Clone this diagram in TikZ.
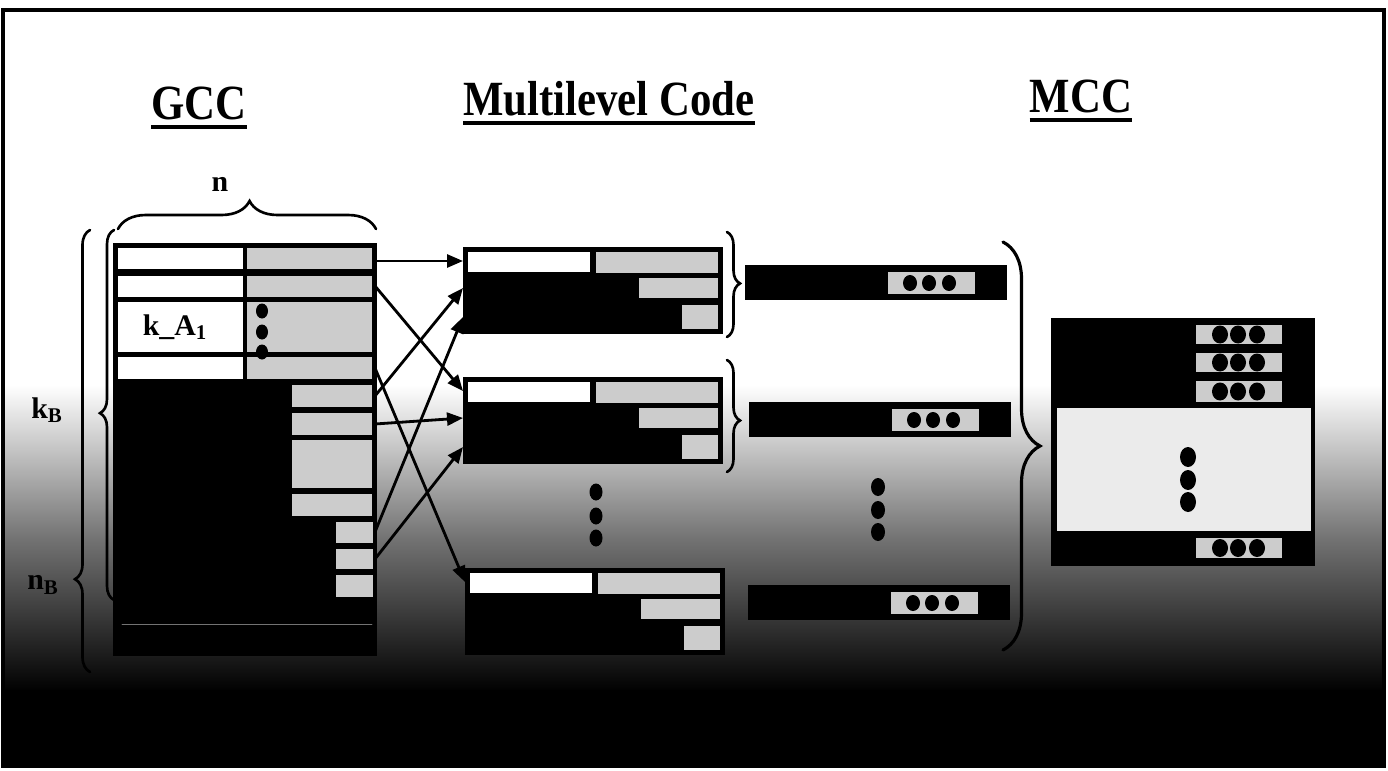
\documentclass[tikz,border=0pt]{standalone}
\usepackage{fontspec}
\setmainfont{Liberation Serif}
\usetikzlibrary{arrows.meta,decorations.pathreplacing}
\definecolor{cellgray}{gray}{0.8}
\definecolor{lightarea}{gray}{0.92}

\begin{document}
\begin{tikzpicture}[x=0.02cm,y=-0.02cm,>={Triangle[length=3.2mm,width=2.6mm]},line cap=round,
  title/.style={font=\fontsize{28}{32}\selectfont\bfseries,inner sep=0pt,anchor=base,xscale=0.87},
  lbl/.style={font=\fontsize{17}{20}\selectfont\bfseries,inner sep=0pt},
  brc/.style={decorate,line width=1.5pt},
  conn/.style={line width=1.6pt}]
\useasboundingbox (0,0) rectangle (1388,770);
% background and frame
\fill[white] (3,10) rectangle (1384,766);
\shade[top color=white,bottom color=black,middle color=black!55] (3,385) rectangle (1384,692);
\fill[black] (3,690) rectangle (1384,766);
\draw[line width=2.3pt] (3,10) rectangle (1384,766);

% titles
\node[title] (tgcc) at (199,120) {GCC};
\node[title] (tml) at (609,116) {Multilevel Code};
\node[title] (tmcc) at (1081,113) {MCC};
\foreach \t in {tgcc,tml,tmcc}
  \draw[line width=2.3pt,line cap=butt] ([yshift=-4pt]\t.base west) -- ([yshift=-4pt]\t.base east);

% GCC array
\fill (113,243) rectangle (377,656);
\foreach \a/\b in {248/269,276/297,302/352,357/379}{
  \fill[white] (118,\a) rectangle (243,\b);
  \fill[cellgray] (247,\a) rectangle (372,\b);
}
\foreach \a/\b in {385/407,413/435,440/488,494/516}
  \fill[cellgray] (292,\a) rectangle (372,\b);
\foreach \a/\b in {522/543,549/569,575/597}
  \fill[cellgray] (336,\a) rectangle (373,\b);
\draw[black!55,line width=0.4pt] (122,624) -- (372,624);
\foreach \y in {311,332,352}
  \fill (262,\y) ellipse (6 and 7.5);
\node[lbl] (ka) at (175,327) {k\_A\textsubscript{1}};

% braces and labels of the array
\draw[brc,decoration={brace,amplitude=0.56cm,aspect=0.51}] (118,229) -- (376,229);
\node[lbl] (n) at (220,184) {n};
\draw[brc,decoration={brace,amplitude=0.28cm,aspect=0.505}] (114,600) -- (114,230);
\node[lbl] (kb) at (47,410) {k\textsubscript{B}};
\draw[brc,decoration={brace,amplitude=0.3cm,aspect=0.21}] (90,672) -- (90,230);
\node[lbl] (nb) at (43,585) {n\textsubscript{B}};

% multilevel code blocks
\foreach \x/\y/\i in {463/247/1,463/377/2,465/568/3}{
  \fill (\x,\y) rectangle (\x+260,\y+87);
  \fill[white] (\x+5,\y+5) rectangle (\x+127,\y+25);
  \fill[cellgray] (\x+133,\y+5) rectangle (\x+255,\y+26);
  \fill[cellgray] (\x+176,\y+31) rectangle (\x+255,\y+51);
  \fill[cellgray] (\x+219,\y+58) rectangle (\x+255,\y+82);
  \coordinate (b\i r1) at (\x,\y+14);
  \coordinate (b\i r2) at (\x,\y+41);
  \coordinate (b\i r3) at (\x,\y+70);
}
\foreach \y in {492,516,538}
  \fill (596,\y) ellipse (6.5 and 8.5);

% row ends of the array
\coordinate (g1) at (375,261);
\coordinate (g2) at (375,286);
\coordinate (g4) at (375,368);
\coordinate (h1) at (375,396);
\coordinate (h2) at (375,424);
\coordinate (s1) at (375,532);
\coordinate (s2) at (375,559);

% connectors
\draw[conn,->] (g1) -- (b1r1);
\draw[conn,->] (h1) -- (b1r2);
\draw[conn,->] (s1) -- (b1r3);
\draw[conn,->] (g2) -- (b2r1);
\draw[conn,->] (h2) -- (b2r2);
\draw[conn,->] (s2) -- (b2r3);
\draw[conn,->] (g4) -- (b3r1);

% braces of the blocks
\draw[brc,decoration={brace,amplitude=0.26cm,aspect=0.49}] (727,232) -- (727,337);
\draw[brc,decoration={brace,amplitude=0.26cm,aspect=0.54}] (727,360) -- (727,472);

% rows of the middle column
\foreach \x/\y in {745/265,749/402,748/585}{
  \fill (\x,\y) rectangle (\x+262,\y+35);
  \fill[cellgray] (\x+143,\y+7) rectangle (\x+230,\y+29);
  \foreach \d in {165,184,204}
    \fill (\x+\d,\y+18) ellipse (7 and 8);
}
\foreach \y in {487,510,532}
  \fill (878,\y) ellipse (7 and 9);

% big brace
\draw[brc,line width=1.8pt,decoration={brace,amplitude=0.74cm,aspect=0.5}] (1003,242) -- (1003,650);

% MCC block
\fill (1051,318) rectangle (1315,566);
\fill[lightarea] (1057,408) rectangle (1311,531);
\foreach \a/\b in {325/344,353/372,381/402,538/558}{
  \fill[cellgray] (1196,\a) rectangle (1282,\b);
  \foreach \d in {1220,1238,1257}
    \fill (\d,\a/2+\b/2) ellipse (8 and 9);
}
\foreach \y in {457,480,502}
  \fill (1188,\y) ellipse (8 and 10);
\end{tikzpicture}
\end{document}
